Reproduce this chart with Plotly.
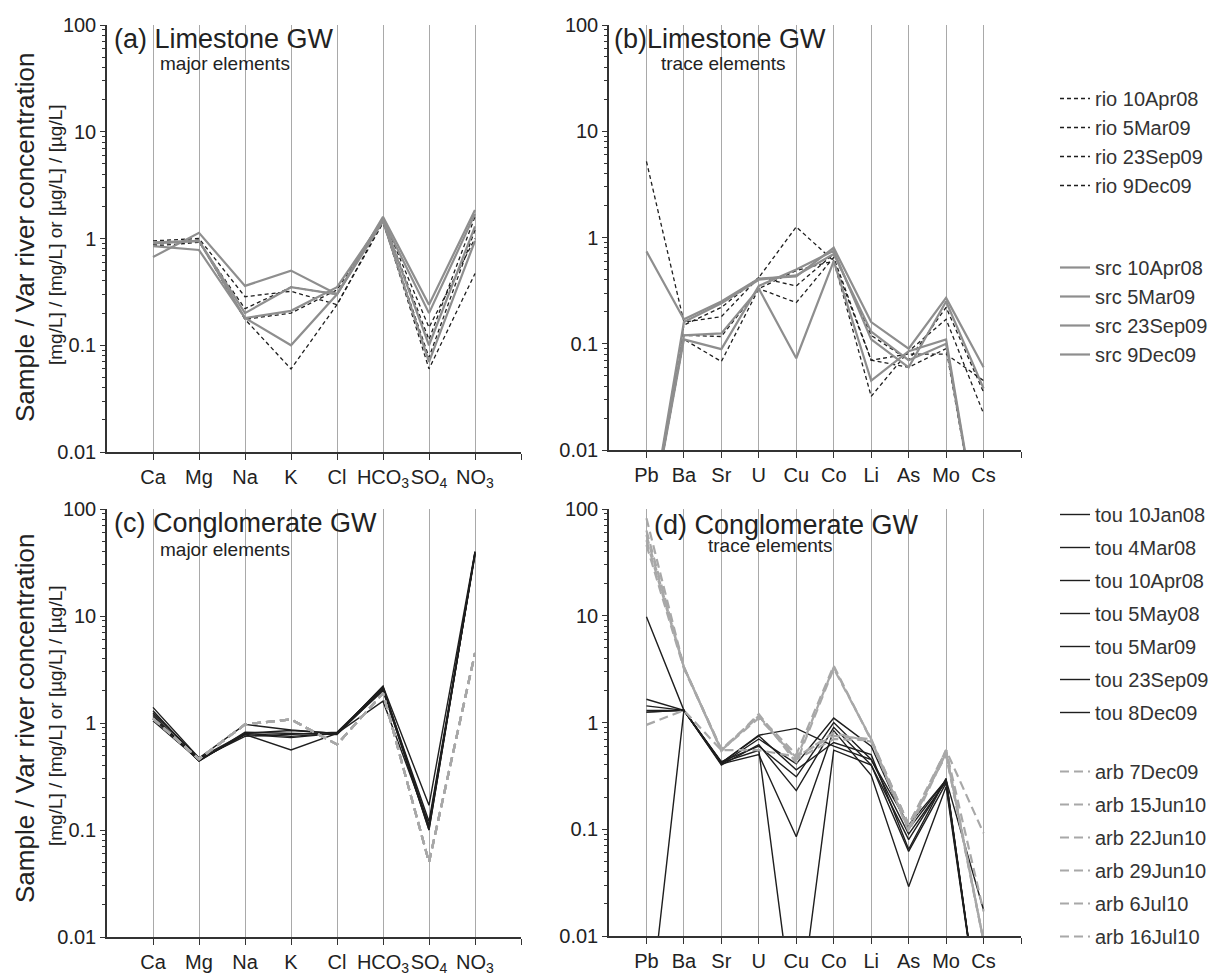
import plotly.graph_objects as go

# page body adds an 8px margin; the figure is sized to fill the rest of the window
OFF = 8
W, H = 1218 - OFF, 977 - OFF

# ---------------- categories ----------------
major_cats = ["Ca", "Mg", "Na", "K", "Cl", "HCO<sub>3</sub>", "SO<sub>4</sub>", "NO<sub>3</sub>"]
trace_cats = ["Pb", "Ba", "Sr", "U", "Cu", "Co", "Li", "As", "Mo", "Cs"]

# ---------------- series names ----------------
rio_names = ["rio 10Apr08", "rio 5Mar09", "rio 23Sep09", "rio 9Dec09"]
src_names = ["src 10Apr08", "src 5Mar09", "src 23Sep09", "src 9Dec09"]
tou_names = ["tou 10Jan08", "tou 4Mar08", "tou 10Apr08", "tou 5May08",
             "tou 5Mar09", "tou 23Sep09", "tou 8Dec09"]
arb_names = ["arb 7Dec09", "arb 15Jun10", "arb 22Jun10", "arb 29Jun10",
             "arb 6Jul10", "arb 16Jul10"]

# ---------------- (a) limestone, major elements ----------------
rio_major = [
    [0.95, 1.00, 0.285, 0.32, 0.24, 1.45, 0.060, 0.47],
    [0.90, 0.95, 0.175, 0.060, 0.24, 1.40, 0.077, 1.20],
    [0.85, 0.92, 0.22, 0.35, 0.30, 1.50, 0.113, 1.60],
    [0.88, 0.97, 0.175, 0.20, 0.33, 1.55, 0.147, 1.00],
]
src_major = [
    [0.67, 1.13, 0.36, 0.50, 0.30, 1.60, 0.24, 1.85],
    [0.85, 0.78, 0.18, 0.10, 0.30, 1.50, 0.20, 1.70],
    [0.90, 0.95, 0.20, 0.35, 0.30, 1.45, 0.070, 0.95],
    [0.92, 0.95, 0.18, 0.21, 0.35, 1.50, 0.10, 1.30],
]

# ---------------- (b) limestone, trace elements ----------------
rio_trace = [
    [5.2, 0.16, 0.18, 0.42, 1.26, 0.60, 0.032, 0.085, 0.17, 0.022],
    [0.0013, 0.15, 0.22, 0.42, 0.35, 0.70, 0.12, 0.070, 0.22, 0.035],
    [0.0013, 0.11, 0.068, 0.33, 0.49, 0.60, 0.070, 0.080, 0.080, 0.045],
    [0.0013, 0.12, 0.117, 0.33, 0.244, 0.65, 0.070, 0.060, 0.090, 0.0009],
]
src_trace = [
    [0.74, 0.17, 0.25, 0.41, 0.43, 0.80, 0.16, 0.090, 0.27, 0.060],
    [0.0013, 0.12, 0.125, 0.33, 0.073, 0.60, 0.045, 0.085, 0.11, 0.0009],
    [0.0013, 0.11, 0.089, 0.35, 0.50, 0.75, 0.11, 0.060, 0.25, 0.038],
    [0.0013, 0.16, 0.24, 0.40, 0.44, 0.70, 0.13, 0.070, 0.10, 0.0009],
]

# ---------------- (c) conglomerate, major elements ----------------
tou_major = [
    [1.40, 0.47, 0.97, 0.86, 0.80, 2.20, 0.17, 40],
    [1.30, 0.45, 0.78, 0.56, 0.80, 2.10, 0.12, 38],
    [1.20, 0.44, 0.80, 0.75, 0.80, 2.00, 0.11, 38],
    [1.10, 0.46, 0.75, 0.78, 0.82, 2.15, 0.10, 39],
    [1.05, 0.45, 0.78, 0.73, 0.80, 1.60, 0.11, 37],
    [1.15, 0.44, 0.82, 0.80, 0.78, 2.05, 0.10, 39],
    [1.25, 0.47, 0.80, 0.85, 0.80, 2.20, 0.105, 40],
]
arb_major = [
    [1.10, 0.46, 0.97, 1.08, 0.63, 1.90, 0.050, 4.5],
    [1.10, 0.46, 0.97, 1.08, 0.63, 1.90, 0.050, 4.5],
    [1.10, 0.46, 0.97, 1.08, 0.63, 1.90, 0.050, 4.5],
    [1.10, 0.46, 0.97, 1.08, 0.63, 1.90, 0.050, 4.5],
    [1.10, 0.46, 0.97, 1.08, 0.63, 1.90, 0.050, 4.5],
    [1.10, 0.46, 0.97, 1.08, 0.63, 1.90, 0.050, 4.5],
]

# ---------------- (d) conglomerate, trace elements ----------------
tou_trace = [
    [9.8, 1.3, 0.42, 0.76, 0.88, 0.60, 0.45, 0.11, 0.29, 0.0175],
    [1.65, 1.3, 0.41, 0.70, 0.41, 1.10, 0.60, 0.10, 0.29, 0.0009],
    [1.43, 1.3, 0.43, 0.60, 0.31, 1.00, 0.45, 0.090, 0.28, 0.0009],
    [1.25, 1.3, 0.42, 0.55, 0.0011, 0.55, 0.40, 0.062, 0.27, 0.0009],
    [1.30, 1.3, 0.40, 0.62, 0.23, 0.90, 0.40, 0.080, 0.29, 0.0009],
    [0.001, 1.3, 0.41, 0.50, 0.085, 0.84, 0.32, 0.029, 0.25, 0.0009],
    [1.25, 1.3, 0.42, 0.75, 0.36, 0.65, 0.50, 0.065, 0.30, 0.0009],
]
arb_trace = [
    [0.95, 1.3, 0.55, 0.55, 0.48, 0.75, 0.70, 0.11, 0.55, 0.092],
    [82, 3.3, 0.56, 1.15, 0.45, 3.30, 0.69, 0.10, 0.55, 0.009],
    [63, 3.3, 0.55, 1.15, 0.50, 3.40, 0.68, 0.11, 0.50, 0.009],
    [57, 3.3, 0.54, 1.20, 0.42, 3.20, 0.70, 0.095, 0.52, 0.009],
    [51, 3.3, 0.55, 1.10, 0.47, 0.80, 0.66, 0.10, 0.55, 0.017],
    [46, 3.2, 0.56, 1.15, 0.45, 0.70, 0.68, 0.11, 0.50, 0.009],
]

# ---------------- styles ----------------
SANS = "Liberation Sans, Arial, sans-serif"
DARK = "#222222"
style_rio = dict(color="#1e1e1e", width=1.3, dash="4px,3px")
style_src = dict(color="#8e8e8e", width=2.2)
style_tou = dict(color="#1e1e1e", width=1.4)
style_arb = dict(color="#a8a8a8", width=2.2, dash="9px,5px")

fig = go.Figure()


def add_group(names, values, cats, xa, ya, style, legend, showlegend):
    xs = list(range(1, len(cats) + 1))
    for name, vals in zip(names, values):
        fig.add_trace(go.Scatter(
            x=xs, y=vals, mode="lines", name=name, line=style,
            xaxis=xa, yaxis=ya, legendgroup=name, legend=legend,
            showlegend=showlegend, hoverinfo="skip"))


add_group(rio_names, rio_major, major_cats, "x", "y", style_rio, "legend", True)
add_group(src_names, src_major, major_cats, "x", "y", style_src, "legend2", True)
add_group(rio_names, rio_trace, trace_cats, "x2", "y2", style_rio, "legend", False)
add_group(src_names, src_trace, trace_cats, "x2", "y2", style_src, "legend2", False)
add_group(tou_names, tou_major, major_cats, "x3", "y3", style_tou, "legend3", True)
add_group(arb_names, arb_major, major_cats, "x3", "y3", style_arb, "legend4", True)
add_group(tou_names, tou_trace, trace_cats, "x4", "y4", style_tou, "legend3", False)
add_group(arb_names, arb_trace, trace_cats, "x4", "y4", style_arb, "legend4", False)


def fx(p):
    return (p - OFF) / W


def fy(p):
    return 1 - (p - OFF) / H


def xaxis(cats, x0, x1, anchor):
    n = len(cats)
    return dict(domain=[fx(x0), fx(x1)], range=[0, n + 1], anchor=anchor,
                tickmode="array", tickvals=list(range(1, n + 2)),
                ticktext=cats + [""], tickangle=0, automargin=False,
                showgrid=True, gridcolor="#a9a9a9",
                gridwidth=1, zeroline=False, showline=True, linecolor="#333333",
                linewidth=1.5, ticks="outside", ticklen=6, tickcolor="#333333",
                tickwidth=1.2, tickfont=dict(family=SANS, size=20, color=DARK),
                fixedrange=True)


minor_vals = [m * 10.0 ** e for e in range(-2, 2) for m in range(2, 10)]
major_vals = [0.01, 0.1, 1, 10, 100]
major_text = ["0.01", "0.1", "1", "10", "100"]


def yaxis(y_top, y_bot, anchor):
    return dict(domain=[fy(y_bot), fy(y_top)], type="log", range=[-2, 2], anchor=anchor,
                tickmode="array", tickvals=major_vals, ticktext=major_text,
                automargin=False,
                showgrid=False, zeroline=False, showline=True, linecolor="#333333",
                linewidth=1.5, ticks="outside", ticklen=5, tickcolor="#333333",
                tickwidth=1.2, tickfont=dict(family=SANS, size=20, color=DARK),
                minor=dict(tickmode="array", tickvals=minor_vals, ticks="outside",
                           ticklen=3, tickcolor="#333333", tickwidth=1, showgrid=False),
                fixedrange=True)


annotations = []


def ann(text, x, y, size, xanchor="left", angle=0):
    annotations.append(dict(text=text, x=fx(x), y=fy(y), xref="paper", yref="paper",
                            xanchor=xanchor, yanchor="middle", showarrow=False,
                            textangle=angle, font=dict(family=SANS, size=size, color=DARK)))


ann("(a) Limestone GW", 112, 39, 27)
ann("major elements", 225, 64, 19, "center")
ann("(b)Limestone GW", 612, 39, 27)
ann("trace elements", 723, 63, 19, "center")
ann("(c) Conglomerate GW", 112, 523, 27)
ann("major elements", 225, 549, 19, "center")
ann("(d) Conglomerate GW", 652, 525, 27)
ann("trace elements", 770, 545, 19, "center")
for yc in (238, 719):
    ann("Sample / Var river concentration", 25, yc, 26, "center", -90)
    ann("[mg/L] / [mg/L] or [µg/L] / [µg/L]", 55, yc - 3, 19, "center", -90)

legend_common = dict(xanchor="left", yanchor="top", bgcolor="rgba(0,0,0,0)",
                     font=dict(family=SANS, size=20, color="#333333"),
                     traceorder="grouped", itemwidth=30, borderwidth=0)

fig.update_layout(
    template="none",
    width=W, height=H, margin=dict(l=0, r=0, t=0, b=0, autoexpand=False),
    paper_bgcolor="white", plot_bgcolor="white",
    xaxis=xaxis(major_cats, 107, 521, "y"),
    yaxis=yaxis(25, 452, "x"),
    xaxis2=xaxis(trace_cats, 609, 1021, "y2"),
    yaxis2=yaxis(25, 450, "x2"),
    xaxis3=xaxis(major_cats, 107, 521, "y3"),
    yaxis3=yaxis(509, 937, "x3"),
    xaxis4=xaxis(trace_cats, 609, 1021, "y4"),
    yaxis4=yaxis(509, 936, "x4"),
    legend=dict(x=fx(1055), y=fy(79), tracegroupgap=0, **legend_common),
    legend2=dict(x=fx(1055), y=fy(248), tracegroupgap=0, **legend_common),
    legend3=dict(x=fx(1055), y=fy(495), tracegroupgap=4, **legend_common),
    legend4=dict(x=fx(1055), y=fy(752), tracegroupgap=4, **legend_common),
    annotations=annotations,
    showlegend=True,
)

fig.write_html("out.html")
